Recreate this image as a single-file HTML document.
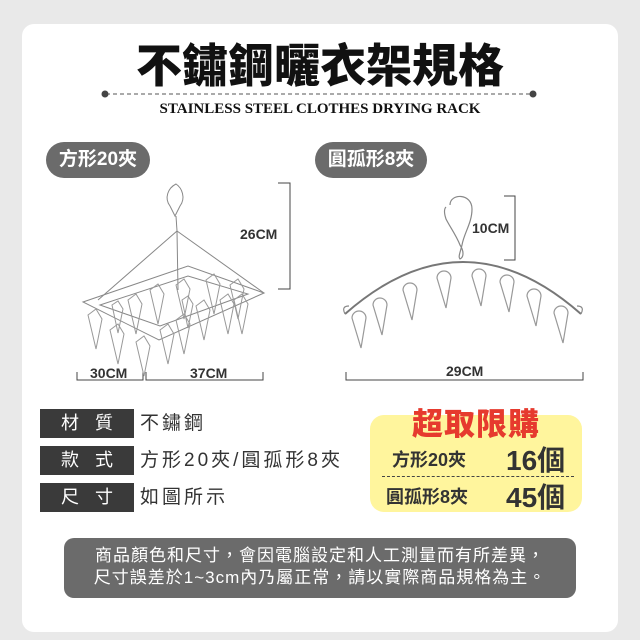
<!DOCTYPE html>
<html><head><meta charset="utf-8"><style>
*{margin:0;padding:0;box-sizing:border-box}
body{width:640px;height:640px;background:#e9e9e9;position:relative;overflow:hidden;font-family:"Liberation Sans","Noto Sans CJK TC",sans-serif}
.card{position:absolute;left:22px;top:24px;width:596px;height:608px;background:#fff;border-radius:12px}
.abs{position:absolute}
.title{left:0;width:640px;top:36px;text-align:center;font-size:46px;font-weight:900;color:#111;letter-spacing:0px;line-height:60px}
.en{left:0;width:640px;top:101px;text-align:center;font-family:"Liberation Serif",serif;font-weight:bold;font-size:15px;color:#111}
.pill{background:#6b6b6b;color:#fff;font-weight:bold;font-size:19px;border-radius:18px;height:36px;line-height:36px;text-align:center}
.lab{background:#3a3a3a;color:#fff;font-size:18px;width:94px;height:29px;line-height:29px;text-align:center;letter-spacing:16px;padding-left:16px}
.val{font-size:19px;color:#333;line-height:29px;letter-spacing:3px}
.dim{font-size:14px;font-weight:bold;color:#333}
</style></head><body>
<div class="card"></div>
<div class="abs title">不鏽鋼曬衣架規格</div>
<svg class="abs" style="left:0;top:0" width="640" height="640">
<line x1="106" y1="94" x2="532" y2="94" stroke="#555" stroke-width="1" stroke-dasharray="4,3"/>
<circle cx="105" cy="94" r="3.5" fill="#444"/><circle cx="533" cy="94" r="3.5" fill="#444"/>
<path d="M278 183 H290 V289 H278" fill="none" stroke="#444" stroke-width="1"/>
<path d="M77 372 V380 H143 V372 M146 372 V380 H263 V372" fill="none" stroke="#444" stroke-width="1"/>
<path d="M504 196 H515 V260 H504" fill="none" stroke="#444" stroke-width="1"/>
<path d="M346 372 V380 H583 V372" fill="none" stroke="#444" stroke-width="1"/>
<g fill="none" stroke="#888" stroke-width="1">
<path d="M176 184 c-8 4 -12 14 -6 22 l5 10 l5 -10 c6 -8 2 -18 -4 -22z"/>
<line x1="176" y1="216" x2="177" y2="231"/>
<path d="M177 231 L98 300 M177 231 L264 293 M177 231 L178 290"/>
<path d="M83 302 L188 266 L264 293 L159 340 Z"/>
<path d="M100 305 L188 276 L248 294 L160 326 Z"/>
<g stroke="#999">
<path d="M88 315 l8 -6 l6 10 l-6 30 z M110 330 l8 -6 l6 10 l-6 30 z M136 342 l8 -6 l6 10 l-6 30 z M160 330 l8 -6 l6 10 l-6 30 z M176 320 l8 -6 l6 10 l-6 30 z M196 306 l8 -6 l6 10 l-6 30 z M220 300 l8 -6 l6 10 l-6 30 z M234 300 l8 -6 l6 10 l-6 30 z M128 300 l8 -6 l6 10 l-6 30 z M150 290 l8 -6 l6 10 l-6 30 z M176 285 l8 -6 l6 10 l-6 30 z M206 280 l8 -6 l6 10 l-6 30 z M230 285 l8 -6 l6 10 l-6 30 z M112 305 l6 -4 l5 8 l-5 24 z M182 300 l6 -4 l5 8 l-5 24 z"/>
</g></g>
<g fill="none" stroke="#888" stroke-width="1.2">
<path d="M450 205 c0 -12 22 -12 22 4 c0 14 -8 24 -10 36 c-2 8 -4 12 -2 14 c4 -2 4 -8 0 -14 c-4 -10 -10 -18 -14 -26 c-2 -6 -2 -10 0 -12"/>
<path d="M345 314 Q463 210 581 314" stroke="#777" stroke-width="2"/>
<path d="M345 314 q-4 -8 4 -8 M581 314 q4 -8 -4 -8"/>
<g stroke="#999">
<path d="M352 318 a7 7 0 1 1 14 0 l-5 30 z M373 305 a7 7 0 1 1 14 0 l-5 30 z M403 290 a7 7 0 1 1 14 0 l-5 30 z M437 278 a7 7 0 1 1 14 0 l-5 30 z M472 276 a7 7 0 1 1 14 0 l-5 30 z M500 282 a7 7 0 1 1 14 0 l-5 30 z M527 296 a7 7 0 1 1 14 0 l-5 30 z M554 313 a7 7 0 1 1 14 0 l-5 30 z"/>
</g></g>
</svg>
<div class="abs en">STAINLESS STEEL CLOTHES DRYING RACK</div>
<div class="abs pill" style="left:46px;top:142px;width:104px">方形20夾</div>
<div class="abs pill" style="left:315px;top:142px;width:112px">圓孤形8夾</div>
<div class="abs dim" style="left:240px;top:226px">26CM</div>
<div class="abs dim" style="left:90px;top:365px">30CM</div>
<div class="abs dim" style="left:190px;top:365px">37CM</div>
<div class="abs dim" style="left:472px;top:220px">10CM</div>
<div class="abs dim" style="left:446px;top:363px">29CM</div>
<div class="abs lab" style="left:40px;top:409px">材質</div>
<div class="abs val" style="left:140px;top:409px">不鏽鋼</div>
<div class="abs lab" style="left:40px;top:446px">款式</div>
<div class="abs val" style="left:140px;top:446px">方形20夾/圓孤形8夾</div>
<div class="abs lab" style="left:40px;top:483px">尺寸</div>
<div class="abs val" style="left:140px;top:483px">如圖所示</div>
<div class="abs" style="left:370px;top:415px;width:212px;height:97px;background:#fff59d;border-radius:14px"></div>
<div class="abs" style="left:370px;top:399px;width:212px;text-align:center;font-size:31px;font-weight:900;color:#e63a2e;letter-spacing:1px">超取限購</div>
<div class="abs" style="left:392px;top:446px;font-size:18px;font-weight:bold;color:#333">方形20夾</div>
<div class="abs" style="left:506px;top:439px;font-size:28px;font-weight:bold;color:#333">16個</div>
<div class="abs" style="left:382px;top:476px;width:192px;border-top:1px dashed #444"></div>
<div class="abs" style="left:386px;top:483px;font-size:18px;font-weight:bold;color:#333">圓孤形8夾</div>
<div class="abs" style="left:506px;top:476px;font-size:28px;font-weight:bold;color:#333">45個</div>
<div class="abs" style="left:64px;top:538px;width:512px;height:60px;background:#6b6b6b;border-radius:10px;color:#fff;font-size:17px;line-height:22px;text-align:center;padding-top:7px;letter-spacing:1px;white-space:nowrap">商品顏色和尺寸，會因電腦設定和人工測量而有所差異，<br>尺寸誤差於1~3cm內乃屬正常，請以實際商品規格為主。</div>
</body></html>
